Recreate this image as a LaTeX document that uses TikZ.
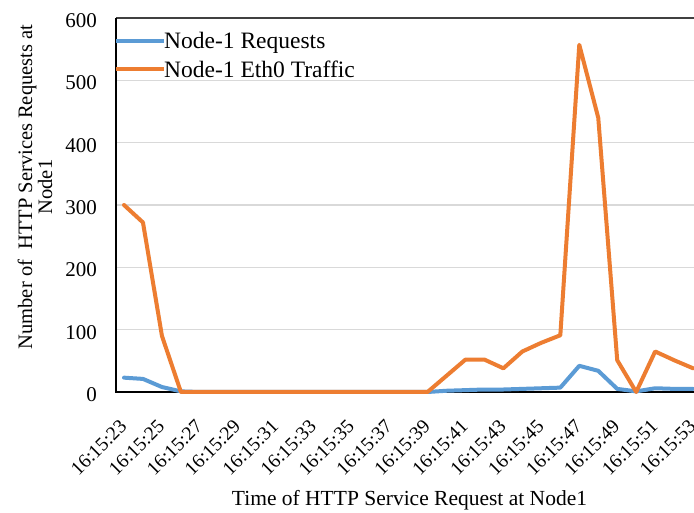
\documentclass[tikz,border=0pt]{standalone}
\usepackage{fontspec}
\setmainfont{Liberation Serif}
\definecolor{serblue}{HTML}{5B9BD5}
\definecolor{serorange}{HTML}{ED7D31}
\definecolor{gridgray}{HTML}{D9D9D9}
\begin{document}
\begin{tikzpicture}[x=1pt,y=1pt,
  gridline/.style={draw=gridgray,line width=1.2pt},
  axisline/.style={draw=black,line width=1.5pt},
  series/.style={line width=4pt,line join=round,line cap=round},
  ticklab/.style={font=\fontsize{21}{24}\selectfont,inner sep=0pt},
  xlab/.style={font=\fontsize{19.5}{22}\selectfont,inner sep=0pt,rotate=45,anchor=base east},
  legtext/.style={font=\fontsize{23.5}{28}\selectfont,inner sep=0pt,anchor=base west},
  axtitle/.style={font=\fontsize{21.5}{21}\selectfont,inner sep=0pt,align=center}]
\useasboundingbox (0,0) rectangle (694,512);
\fill[white] (0,0) rectangle (694,512);
\clip (0,0) rectangle (694,512);
% data frame: one unit per second along x, one unit per request along y
\begin{scope}[shift={(124,120)},x=18.97pt,y=0.6233pt]
  \foreach \v in {100,200,300,400,500}
    \draw[gridline] (-0.42,\v) -- (32,\v);
  \draw[draw=black!75,line width=1.5pt] (-0.42,600) -- (32,600);
  \draw[axisline] (-0.42,600) -- (-0.42,0) -- (32,0);
  % y tick labels
  \foreach \v in {0,100,200,300,400,500,600}
    \node[ticklab,anchor=east] (yl\v) at (-1.42,\v-4) {\v};
  % x tick labels
  \foreach \i in {0,2,...,30}{
    \pgfmathtruncatemacro{\s}{23+\i}
    \node[xlab] (xl\i) at (\i+0.2,-57) {16:15:\s};
  }
  % series
  \draw[series,serblue] plot coordinates {(0,23) (1,21) (2,8) (3,1) (4,0) (5,0) (6,0) (7,0)
    (8,0) (9,0) (10,0) (11,0) (12,0) (13,0) (14,0) (15,0) (16,0) (17,2) (18,3) (19,4)
    (20,4) (21,5) (22,6) (23,7) (24,42) (25,34) (26,5) (27,1) (28,6) (29,5) (30,5)};
  \draw[series,serorange] plot coordinates {(0,300) (1,272) (2,90) (3,0) (4,0) (5,0) (6,0)
    (7,0) (8,0) (9,0) (10,0) (11,0) (12,0) (13,0) (14,0) (15,0) (16,0) (17,26) (18,52)
    (19,52) (20,38) (21,65) (22,79) (23,91) (24,557) (25,440) (26,51) (27,0) (28,65)
    (29,51) (30,38)};
\end{scope}
% legend
\node[legtext] (legreq) at (164,463) {Node-1 Requests};
\node[legtext] (legeth) at (164,434) {Node-1 Eth0 Traffic};
\coordinate (lra) at (116,471);
\coordinate (lea) at (116,443);
\draw[series,serblue,line cap=butt] (lra) -- (lra -| legreq.west);
\draw[series,serorange,line cap=butt] (lea) -- (lea -| legeth.west);
% axis titles
\node[axtitle,anchor=base] (xtitle) at (409.5,7) {Time of HTTP Service Request at Node1};
\node[axtitle,rotate=90,font=\fontsize{20.5}{20}\selectfont] (ytitle) at (35,325)
  {Number of\ \ HTTP Services Requests at\\Node1};
\end{tikzpicture}
\end{document}
